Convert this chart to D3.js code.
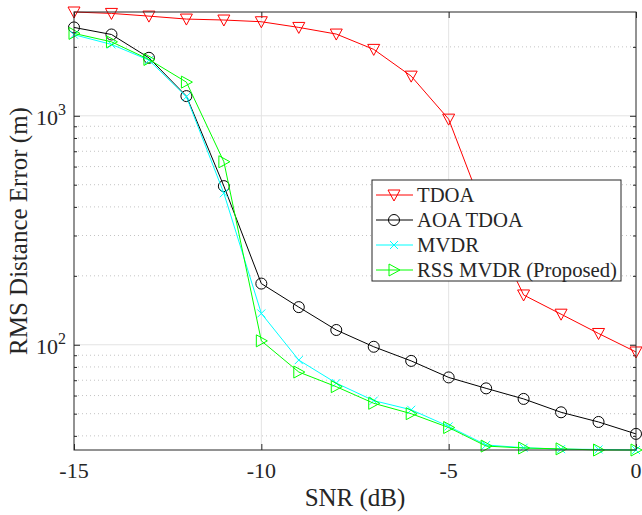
<!DOCTYPE html>
<html>
<head>
<meta charset="utf-8">
<script src="https://cdn.jsdelivr.net/npm/d3@7"></script>
<style>
  body { margin: 0; background: #fff; }
  text { font-family: "Liberation Serif", "Times New Roman", serif; fill: #262626; }
</style>
</head>
<body>
<div id="chart"></div>
<script>
// (DATA) SNR values and RMS distance error per method
var snr = [-15, -14, -13, -12, -11, -10, -9, -8, -7, -6, -5, -4, -3, -2, -1, 0];
var tdoa = [2840, 2800, 2725, 2645, 2620, 2575, 2432, 2275, 1950, 1490, 967, 361, 165, 136, 112, 93];
var aoaTdoa = [2432, 2265, 1792, 1219, 493, 185, 146, 116, 98, 85, 72, 64.5, 58, 50.7, 46, 40.8];
var mvdr = [2260, 2050, 1750, 1211, 459, 137, 85.7, 68, 57, 52, 44, 36.5, 35.5, 35, 34.9, 34.7];
var rssMvdr = [2290, 2104, 1762, 1403, 630, 104, 76, 65.6, 55.5, 50, 43.5, 36.1, 35.4, 35.1, 34.7, 34.7];

var seriesNames = ["TDOA", "AOA TDOA", "MVDR", "RSS MVDR (Proposed)"];
var seriesValues = [tdoa, aoaTdoa, mvdr, rssMvdr];
var seriesColors = ["#ff0000", "#000000", "#00ffff", "#00ff00"];
var seriesMarkers = ["down", "circle", "cross", "right"];

var xTicks = [-15, -10, -5, 0];
var yMajor = [100, 1000];

function init() {
    // (SVG) sizes
    var w = 642, h = 515;
    var pLeft = 74, pRight = 636, pTop = 12, pBottom = 450;

    var allValues = d3.merge(seriesValues);
    var xScale = d3.scaleLinear().domain([-15, 0]).range([pLeft, pRight]);
    var yScale = d3.scaleLog()
        .domain([d3.min(allValues), d3.max(allValues)])
        .range([pBottom, pTop]);

    var svg = d3.select("#chart").append("svg")
        .attr("width", w)
        .attr("height", h);

    // minor log ticks inside domain
    var yMinor = yScale.ticks().filter(function(d) {
        return yMajor.indexOf(d) < 0;
    });

    // (GRID) minor dotted
    svg.append("g").selectAll("line")
        .data(yMinor)
        .enter().append("line")
        .attr("x1", pLeft).attr("x2", pRight)
        .attr("y1", function(d) { return yScale(d); })
        .attr("y2", function(d) { return yScale(d); })
        .attr("stroke", "#c4c4c4")
        .attr("stroke-width", 1)
        .attr("stroke-dasharray", "1,3");

    // (GRID) major solid
    svg.append("g").selectAll("line")
        .data(yMajor)
        .enter().append("line")
        .attr("x1", pLeft).attr("x2", pRight)
        .attr("y1", function(d) { return yScale(d); })
        .attr("y2", function(d) { return yScale(d); })
        .attr("stroke", "#e3e3e3")
        .attr("stroke-width", 1);

    svg.append("g").selectAll("line")
        .data(xTicks.slice(1, 3))
        .enter().append("line")
        .attr("y1", pTop).attr("y2", pBottom)
        .attr("x1", function(d) { return xScale(d); })
        .attr("x2", function(d) { return xScale(d); })
        .attr("stroke", "#e3e3e3")
        .attr("stroke-width", 1);

    // (AXES) inward ticks on all four sides
    var axisColor = "#262626";
    function styleAxis(g) {
        g.select(".domain").remove();
        g.selectAll(".tick line").attr("stroke", axisColor);
        g.selectAll("text").remove();
    }
    svg.append("g").attr("transform", "translate(0," + pBottom + ")")
        .call(d3.axisBottom(xScale).tickValues(xTicks).tickSizeInner(-6).tickSizeOuter(0))
        .call(styleAxis);
    svg.append("g").attr("transform", "translate(0," + pTop + ")")
        .call(d3.axisTop(xScale).tickValues(xTicks).tickSizeInner(-6).tickSizeOuter(0))
        .call(styleAxis);
    svg.append("g").attr("transform", "translate(" + pLeft + ",0)")
        .call(d3.axisLeft(yScale).tickValues(yMajor).tickSizeInner(-6).tickSizeOuter(0))
        .call(styleAxis);
    svg.append("g").attr("transform", "translate(" + pRight + ",0)")
        .call(d3.axisRight(yScale).tickValues(yMajor).tickSizeInner(-6).tickSizeOuter(0))
        .call(styleAxis);
    svg.append("g").attr("transform", "translate(" + pLeft + ",0)")
        .call(d3.axisLeft(yScale).tickValues(yMinor).tickSizeInner(-3).tickSizeOuter(0))
        .call(styleAxis);
    svg.append("g").attr("transform", "translate(" + pRight + ",0)")
        .call(d3.axisRight(yScale).tickValues(yMinor).tickSizeInner(-3).tickSizeOuter(0))
        .call(styleAxis);

    // tick labels
    svg.append("g").selectAll("text")
        .data(xTicks)
        .enter().append("text")
        .attr("x", function(d) { return xScale(d); })
        .attr("y", pBottom + 28)
        .attr("text-anchor", "middle")
        .attr("font-size", 22)
        .text(function(d) { return d; });

    var yLab = svg.append("g").selectAll("text")
        .data(yMajor)
        .enter().append("text")
        .attr("x", pLeft - 8)
        .attr("y", function(d) { return yScale(d) + 9; })
        .attr("text-anchor", "end")
        .attr("font-size", 22);
    yLab.append("tspan").text("10");
    yLab.append("tspan")
        .attr("dy", -10)
        .attr("font-size", 16)
        .text(function(d) { return Math.round(Math.log10(d)); });

    // axis titles
    svg.append("text")
        .attr("x", (pLeft + pRight) / 2)
        .attr("y", 506)
        .attr("text-anchor", "middle")
        .attr("font-size", 25)
        .text("SNR (dB)");
    svg.append("text")
        .attr("transform", "translate(27," + (pTop + pBottom) / 2 + ") rotate(-90)")
        .attr("text-anchor", "middle")
        .attr("font-size", 25)
        .text("RMS Distance Error (m)");

    // (MARKERS)
    function drawMarker(g, type, color) {
        if (type === "down") {
            g.append("path").attr("d", "M-6,-5L6,-5L0,6Z");
        } else if (type === "right") {
            g.append("path").attr("d", "M-5,-6L6,0L-5,6Z");
        } else if (type === "circle") {
            g.append("circle").attr("r", 5.5);
        } else {
            g.append("path").attr("d", "M-4,-4L4,4M-4,4L4,-4");
        }
        g.selectAll("path,circle")
            .attr("fill", "none")
            .attr("stroke", color)
            .attr("stroke-width", 1);
    }

    var line = d3.line()
        .x(function(d, i) { return xScale(snr[i]); })
        .y(function(d) { return yScale(d); });

    var plot = svg.append("g");
    seriesValues.forEach(function(vals, k) {
        plot.append("path")
            .attr("d", line(vals))
            .attr("fill", "none")
            .attr("stroke", seriesColors[k])
            .attr("stroke-width", 1);
        vals.forEach(function(v, i) {
            var g = plot.append("g")
                .attr("transform", "translate(" + xScale(snr[i]) + "," + yScale(v) + ")");
            drawMarker(g, seriesMarkers[k], seriesColors[k]);
        });
    });

    // (BOX)
    svg.append("rect")
        .attr("x", pLeft).attr("y", pTop)
        .attr("width", pRight - pLeft).attr("height", pBottom - pTop)
        .attr("fill", "none")
        .attr("stroke", axisColor)
        .attr("stroke-width", 1);

    // (LEGEND)
    var lx = 372, ly = 180, lw = 249, lh = 101, rowH = 25;
    var legend = svg.append("g");
    legend.append("rect")
        .attr("x", lx).attr("y", ly)
        .attr("width", lw).attr("height", lh)
        .attr("fill", "#fff")
        .attr("stroke", axisColor)
        .attr("stroke-width", 1);
    seriesNames.forEach(function(name, k) {
        var cy = ly + 15 + k * rowH;
        legend.append("line")
            .attr("x1", lx + 4).attr("x2", lx + 41)
            .attr("y1", cy).attr("y2", cy)
            .attr("stroke", seriesColors[k])
            .attr("stroke-width", 1);
        var g = legend.append("g").attr("transform", "translate(" + (lx + 22) + "," + cy + ")");
        drawMarker(g, seriesMarkers[k], seriesColors[k]);
        legend.append("text")
            .attr("x", lx + 45)
            .attr("y", cy + 7)
            .attr("font-size", 20.7)
            .text(name);
    });
}

window.onload = init;
</script>
</body>
</html>
